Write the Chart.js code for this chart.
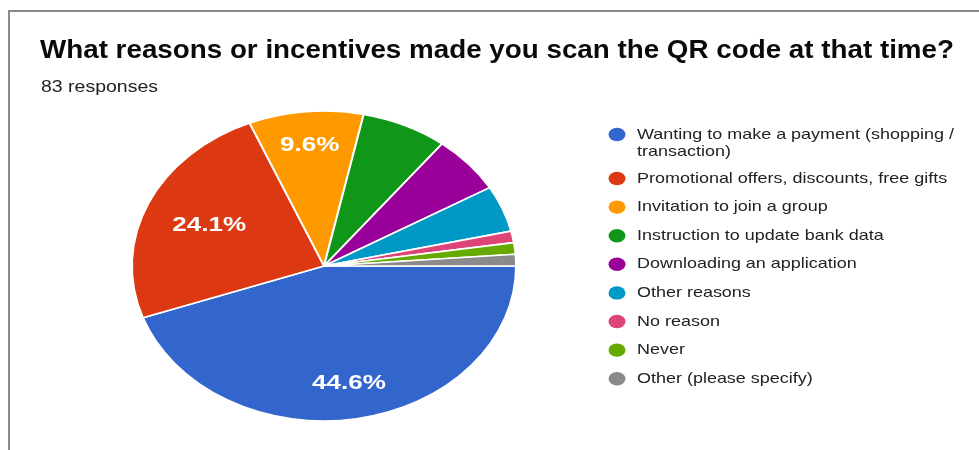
<!DOCTYPE html>
<html>
<head>
<meta charset="utf-8">
<script src="https://cdn.jsdelivr.net/npm/chart.js@4"></script>
<style>
html, body { margin: 0; padding: 0; background: #fff; }
#wrap { width: 979px; height: 450px; }
</style>
</head>
<body>
<div id="wrap"><canvas id="qrPie" width="979" height="450"></canvas></div>
<script>
const title = 'What reasons or incentives made you scan the QR code at that time?';
const subtitle = '83 responses';
const labels = ['Wanting to make a payment (shopping / transaction)', 'Promotional offers, discounts, free gifts', 'Invitation to join a group', 'Instruction to update bank data', 'Downloading an application', 'Other reasons', 'No reason', 'Never', 'Other (please specify)'];
const counts = [37, 20, 8, 6, 5, 4, 1, 1, 1];
const colors = ['#3366cc', '#dc3912', '#ff9900', '#109618', '#990099', '#0099c6', '#dd4477', '#66aa00', '#8a8a8a'];

const SX = 1.239; // source picture is stretched sideways
const font = '"Liberation Sans", Arial, sans-serif';

function stretchText(ctx, txt, x, y, sx) {
    ctx.save();
    ctx.translate(x, y);
    ctx.scale(sx, 1);
    ctx.fillText(txt, 0, 0);
    ctx.restore();
}

function fitText(ctx, txt, x, y, w) {
    stretchText(ctx, txt, x, y, w / ctx.measureText(txt).width);
}

function wrap(ctx, txt, maxW) {
    const words = txt.split(' ');
    const out = [];
    let cur = '';
    words.forEach(w => {
        const t = cur ? cur + ' ' + w : w;
        if (cur && ctx.measureText(t).width > maxW) { out.push(cur); cur = w; }
        else cur = t;
    });
    if (cur) out.push(cur);
    return out;
}

const frame = {
    id: 'frame',
    beforeDraw(chart) {
        const ctx = chart.ctx;
        ctx.save();
        ctx.fillStyle = '#fff';
        ctx.fillRect(0, 0, chart.width, chart.height);
        ctx.strokeStyle = '#8a8a8a';
        ctx.lineWidth = 2;
        ctx.beginPath();
        ctx.moveTo(9, 450);
        ctx.lineTo(9, 11);
        ctx.lineTo(979, 11);
        ctx.stroke();
        ctx.restore();
    },
    afterDraw(chart) {
        const ctx = chart.ctx;
        ctx.save();
        ctx.textAlign = 'left';
        ctx.textBaseline = 'alphabetic';
        ctx.fillStyle = '#0a0a0a';
        ctx.font = 'bold 25px ' + font;
        fitText(ctx, title, 40, 58, 914);
        ctx.fillStyle = '#222';
        ctx.font = '17px ' + font;
        fitText(ctx, subtitle, 41, 92, 117);

        // legend
        ctx.font = '14.5px ' + font;
        ctx.textBaseline = 'middle';
        let y = 134.5;
        labels.forEach((lab, i) => {
            const lines = wrap(ctx, lab, 270);
            ctx.fillStyle = colors[i];
            ctx.beginPath();
            ctx.ellipse(617, y, 8.5, 6.7, 0, 0, Math.PI * 2);
            ctx.fill();
            ctx.fillStyle = '#222';
            lines.forEach((ln, j) => stretchText(ctx, ln, 637, y + j * 17.5, SX));
            y += 28.6 + (lines.length - 1) * 15.4;
        });
        ctx.restore();
    }
};

const squash = {
    id: 'squash',
    beforeDatasetsDraw(chart) {
        const a = chart.getDatasetMeta(0).data[0];
        const ctx = chart.ctx;
        ctx.save();
        ctx.translate(a.x, a.y);
        ctx.scale(SX, 1);
        ctx.translate(-a.x, -a.y);
    },
    afterDatasetsDraw(chart) {
        const ctx = chart.ctx;
        ctx.restore();
        const total = counts.reduce((s, v) => s + v, 0);
        ctx.save();
        ctx.fillStyle = '#fff';
        ctx.font = 'bold 21px ' + font;
        ctx.textAlign = 'center';
        ctx.textBaseline = 'middle';
        chart.getDatasetMeta(0).data.forEach((arc, i) => {
            const share = counts[i] / total;
            if (share < 0.08) return;
            const txt = (share * 100).toFixed(1) + '%';
            const mid = (arc.startAngle + arc.endAngle) / 2;
            const c = Math.cos(mid), s = Math.sin(mid);
            // keep the text box inside, its outer side near 0.85 of the radius
            const hw = ctx.measureText(txt).width / 2, hh = 8;
            const r = arc.outerRadius * 0.85 - (hw * Math.abs(c) + hh * Math.abs(s));
            stretchText(ctx, txt, arc.x + c * r * SX, arc.y + s * r, SX);
        });
        ctx.restore();
    }
};

new Chart(document.getElementById('qrPie'), {
    type: 'pie',
    data: {
        labels,
        datasets: [{ data: counts, backgroundColor: colors, borderColor: '#fff', borderWidth: 1.6, hoverOffset: 0 }]
    },
    options: {
        responsive: false,
        animation: false,
        rotation: 90,
        radius: 155,
        layout: { padding: { left: 0, right: 331, top: 82, bottom: 0 } },
        plugins: { legend: { display: false }, tooltip: { enabled: false }, title: { display: false } }
    },
    plugins: [frame, squash]
});
</script>
</body>
</html>
